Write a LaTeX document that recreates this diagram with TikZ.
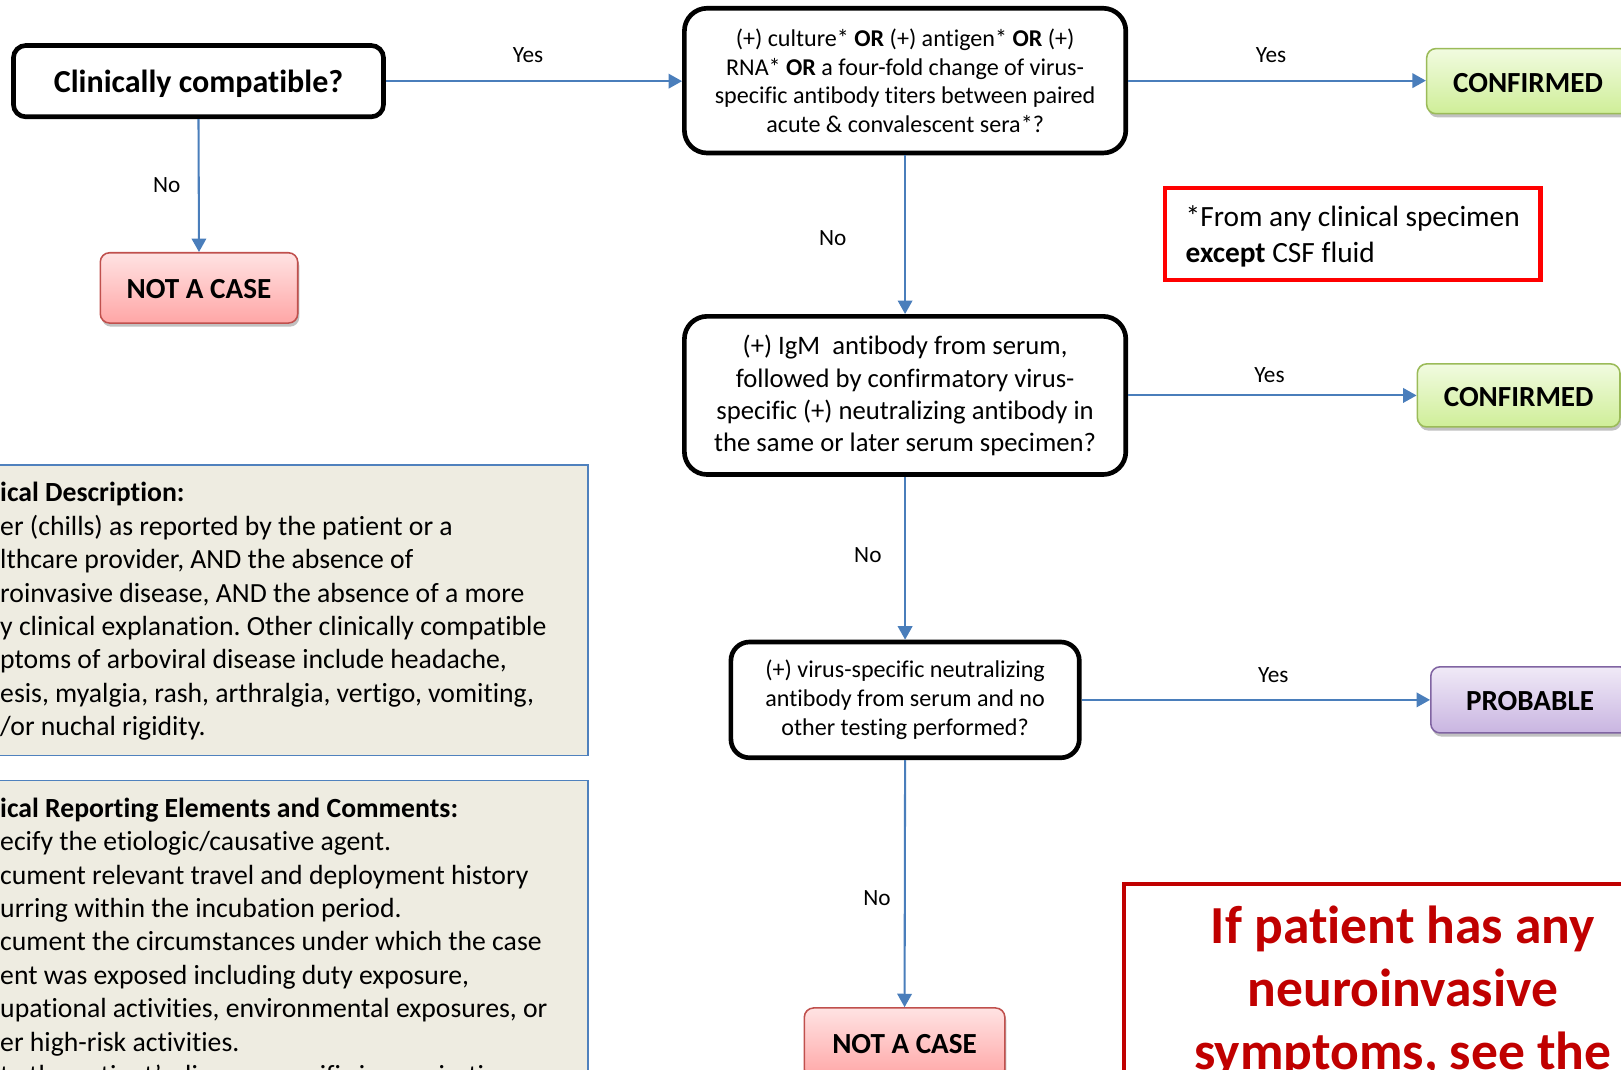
\documentclass[tikz,border=0pt]{standalone}
\usepackage{fontspec}
\setmainfont{Carlito}[Ligatures=NoCommon]
\usetikzlibrary{arrows.meta,shadows,calc}
\definecolor{flowblue}{HTML}{4A7EBB}
\definecolor{ncTop}{HTML}{FFE3E3}
\definecolor{ncBot}{HTML}{FFA6A6}
\definecolor{ncLine}{HTML}{C0504D}
\definecolor{cfTop}{HTML}{F1FBE0}
\definecolor{cfBot}{HTML}{CFEE98}
\definecolor{cfLine}{HTML}{9BBB59}
\definecolor{prTop}{HTML}{F0EAF7}
\definecolor{prBot}{HTML}{C9B5E1}
\definecolor{prLine}{HTML}{8064A2}
\definecolor{noteRed}{HTML}{FF0000}
\definecolor{darkRed}{HTML}{C00000}
\definecolor{panelFill}{HTML}{EEECE1}
\definecolor{panelLine}{HTML}{4F81BD}
\frenchspacing
\begin{document}
\begin{tikzpicture}[x=1pt,y=-1pt,
  decision/.style={draw=black, line width=4.5pt, fill=white, align=center, inner sep=0pt},
  resultbox/.style={line width=1.5pt, rounded corners=9pt, inner sep=0pt,
     font=\fontsize{28.2}{32}\selectfont\bfseries, text height=21pt, text depth=0pt,
     drop shadow={shadow xshift=1.5pt, shadow yshift=-3.5pt, opacity=0.35, fill=black!70}},
  notcase/.style={resultbox, draw=ncLine, top color=ncTop, bottom color=ncBot},
  confirmed/.style={resultbox, draw=cfLine, top color=cfTop, bottom color=cfBot},
  probable/.style={resultbox, draw=prLine, top color=prTop, bottom color=prBot},
  flow/.style={draw=flowblue, line width=2pt, -{Triangle[length=13pt,width=14pt]}},
  lbl/.style={font=\fontsize{22.5}{27}\selectfont, inner sep=0pt},
  panel/.style={draw=panelLine, line width=1.5pt, fill=panelFill},
  paneltext/.style={font=\fontsize{26.8}{32.3}\selectfont, align=left, inner sep=0pt, anchor=west}
]
\useasboundingbox (0,0) rectangle (1568,1035);
\clip (0,0) rectangle (1568,1035);

% left panels
\node[panel, minimum width=589pt, minimum height=281pt, inner sep=0pt] (panelA) at (274.5,590.5) {};
\node[paneltext] (panelAtext) at (0,591.5) {\textbf{ical Description:}\\
er (chills) as reported by the patient or a\\
lthcare provider, AND the absence of\\
roinvasive disease, AND the absence of a more\\
y clinical explanation. Other clinically compatible\\
ptoms of arboviral disease include headache,\\
esis, myalgia, rash, arthralgia, vertigo, vomiting,\\
/or nuchal rigidity.};

\node[panel, minimum width=589pt, minimum height=400pt, inner sep=0pt] (panelB) at (274.5,955) {};
\node[paneltext] (panelBtext) at (0,912.5) {\textbf{ical Reporting Elements and Comments:}\\
ecify the etiologic/causative agent.\\
cument relevant travel and deployment history\\
urring within the incubation period.\\
cument the circumstances under which the case\\
ent was exposed including duty exposure,\\
upational activities, environmental exposures, or\\
er high-risk activities.\\
te the patient’s disease-specific immunization};

% decision boxes
\node[decision, rounded corners=12pt, minimum width=358pt, minimum height=69pt,
      text depth=0pt, font=\fontsize{31}{34}\selectfont\bfseries] (cc) at (192,78.5) {Clinically compatible?};
\node[decision, rounded corners=22pt, minimum width=427pt, minimum height=140pt,
      font=\fontsize{23.3}{27.5}\selectfont] (q1) at (875.5,78) {(+) culture* \textbf{OR} (+) antigen* \textbf{OR} (+)\\
RNA* \textbf{OR} a four-fold change of virus-\\
specific antibody titers between paired\\
acute \& convalescent sera*?};
\node[decision, rounded corners=22pt, minimum width=427pt, minimum height=153pt,
      font=\fontsize{25.8}{31}\selectfont] (q2) at (875.5,382.5) {(+) IgM~ antibody from serum,\\
followed by confirmatory virus-\\
specific (+) neutralizing antibody in\\
the same or later serum specimen?};
\node[decision, rounded corners=18pt, minimum width=337pt, minimum height=112pt,
      font=\fontsize{23.3}{28}\selectfont] (q3) at (875.5,677) {(+) virus-specific neutralizing\\
antibody from serum and no\\
other testing performed?};

% results
\node[notcase, minimum width=191pt, minimum height=68pt] (nc1) at (192.5,278.5) {NOT A CASE};
\node[notcase, minimum width=194pt, minimum height=68pt] (nc2) at (875,1009) {NOT A CASE};
\node[confirmed, minimum width=196pt, minimum height=63pt] (cf1) at (1478,78.5) {CONFIRMED};
\node[confirmed, minimum width=196pt, minimum height=61pt] (cf2) at (1469,382.5) {CONFIRMED};
\node[probable, minimum width=192pt, minimum height=64pt] (pr) at (1480,677) {PROBABLE};

% notes
\node[draw=noteRed, line width=4.5pt, fill=white, minimum width=363pt, minimum height=89pt,
      inner sep=0pt] (note) at (1308.5,226.5) {};
\node[align=left, inner sep=0pt, font=\fontsize{28.4}{35}\selectfont] (notetext) at (1308.5,228.5)
      {*From any clinical specimen\\ \textbf{except} CSF fluid};
\node[draw=darkRed, line width=4pt, fill=white, anchor=north, minimum width=540pt,
      inner xsep=0pt, inner ysep=21pt, align=center, text=darkRed,
      font=\fontsize{51.8}{61}\selectfont\bfseries] (neuro) at (1357,853)
      {If patient has any\\ neuroinvasive\\ symptoms, see the};

% connectors
\draw[flow] (cc.east) -- (cc.east -| q1.west) node[lbl, pos=0.48, yshift=25pt] {Yes};
\draw[flow] (cc.south) -- (nc1.north) node[lbl, pos=0.5, xshift=-31pt] {No};
\draw[flow] (q1.east) -- (q1.east -| cf1.west) node[lbl, pos=0.48, yshift=25pt] {Yes};
\draw[flow] (q1.south) -- (q2.north) node[lbl, pos=0.52, xshift=-70pt] {No};
\draw[flow] (q2.east) -- (q2.east -| cf2.west) node[lbl, pos=0.49, yshift=20pt] {Yes};
\draw[flow] (q2.south) -- (q3.north) node[lbl, pos=0.48, xshift=-36pt] {No};
\draw[flow] (q3.east) -- (q3.east -| pr.west) node[lbl, pos=0.55, yshift=24pt] {Yes};
\draw[flow] (q3.south) -- (nc2.north) node[lbl, pos=0.56, xshift=-27pt] {No};
\end{tikzpicture}
\end{document}
